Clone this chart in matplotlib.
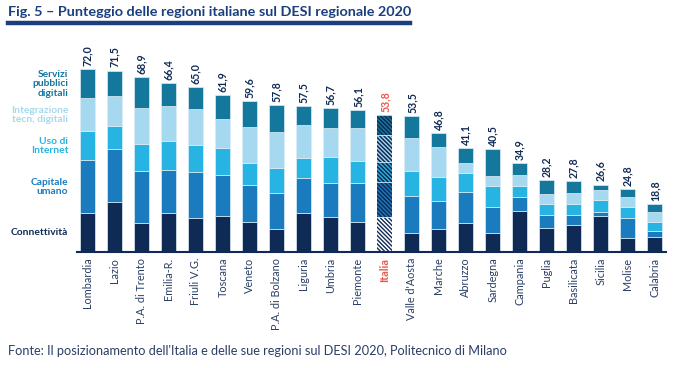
import numpy as np
import matplotlib.pyplot as plt

plt.rcParams['font.family'] = ['Lato', 'DejaVu Sans']
plt.rcParams['hatch.linewidth'] = 1.0

regions = ["Lombardia", "Lazio", "P.A. di Trento", "Emilia-R.", "Friuli V.G.", "Toscana",
           "Veneto", "P.A. di Bolzano", "Liguria", "Umbria", "Piemonte", "Italia",
           "Valle d'Aosta", "Marche", "Abruzzo", "Sardegna", "Campania", "Puglia",
           "Basilicata", "Sicilia", "Molise", "Calabria"]
totals = ["72,0", "71,5", "68,9", "66,4", "65,0", "61,9", "59,6", "57,8", "57,5", "56,7",
          "56,1", "53,8", "53,5", "46,8", "41,1", "40,5", "34,9", "28,2", "27,8", "26,6",
          "24,8", "18,8"]

connettivita = [15.2, 19.8, 11.5, 15.2, 13.3, 14.3, 11.9, 9.1, 15.2, 13.7, 11.9, 13.9,
                7.4, 8.9, 11.5, 7.6, 16.1, 9.3, 10.6, 14.3, 5.4, 6.0]
capitale = [21.0, 20.6, 20.5, 17.3, 18.2, 15.9, 14.7, 14.3, 13.8, 13.6, 15.4, 13.8,
            14.8, 11.3, 12.2, 10.2, 5.4, 5.2, 3.9, 1.6, 7.9, 2.2]
uso_internet = [11.4, 9.4, 10.5, 11.1, 10.6, 10.6, 8.5, 9.6, 8.1, 10.2, 8.5, 7.9,
                9.7, 9.2, 7.5, 8.1, 4.6, 4.3, 4.6, 4.6, 4.3, 3.7]
integrazione = [12.9, 11.7, 14.3, 13.9, 14.1, 11.8, 14.2, 14.3, 12.8, 11.4, 12.9, 10.4,
                12.9, 11.8, 3.9, 3.9, 4.1, 3.9, 4.2, 4.0, 4.0, 3.9]
servizi = [11.5, 10.0, 12.1, 8.9, 8.8, 9.3, 10.3, 10.5, 7.6, 7.8, 7.4, 7.8,
           8.7, 5.6, 6.0, 10.7, 4.7, 5.5, 4.5, 2.1, 3.2, 3.0]

series = [
    ("Connettività", connettivita, "#0f2b55"),
    ("Capitale\numano", capitale, "#1a7cbf"),
    ("Uso di\nInternet", uso_internet, "#27b4e2"),
    ("Integrazione\ntecn, digitali", integrazione, "#a6d9ef"),
    ("Servizi\npubblici\ndigitali", servizi, "#14779c"),
]

navy = "#0f2b55"
red = "#e8584f"
text_col = "#2b3f66"
italia = regions.index("Italia")
hatch = "\\" * 8

fig = plt.figure(figsize=(7, 3.68), dpi=100)
ax = fig.add_axes([0.11, 0.315, 0.841, 0.552])

x = np.arange(len(regions))
w = 0.55
bottom = np.zeros(len(regions))
for k, (name, vals, col) in enumerate(series):
    vals = np.array(vals)
    for i in range(len(regions)):
        if i == italia:
            # Italia: hatched bar
            if k == 0:
                ax.bar(x[i], vals[i], w, bottom=bottom[i], color="white",
                       edgecolor=navy, hatch=hatch, linewidth=0)
            else:
                ax.bar(x[i], vals[i], w, bottom=bottom[i], color=navy,
                       edgecolor=col, hatch=hatch, linewidth=0)
            ax.plot([x[i] - w / 2, x[i] + w / 2], [bottom[i] + vals[i]] * 2,
                    color="#d8ecf5", lw=0.6)
        else:
            ax.bar(x[i], vals[i], w, bottom=bottom[i], color=col,
                   edgecolor="#dcedf6", linewidth=0.5)
    ax.text(-0.72, bottom[0] + vals[0] / 2, name, ha="right", va="center",
            fontsize=7.4, fontweight="bold", color=col, linespacing=1.05,
            clip_on=False)
    bottom += vals

for i in range(len(regions)):
    ax.text(x[i], bottom[i] + 1.2, totals[i], rotation=90, ha="center", va="bottom",
            fontsize=7.6, fontweight="bold", color=red if i == italia else navy)

ax.set_xlim(-0.4, len(regions) - 0.6)
ax.set_ylim(0, 80)
for s in ["top", "right", "left"]:
    ax.spines[s].set_visible(False)
ax.spines["bottom"].set_color(navy)
ax.spines["bottom"].set_linewidth(1.5)
ax.set_yticks([])
ax.set_xticks(x)
ax.set_xticklabels(regions, rotation=90, fontsize=7.8, color=text_col)
ax.tick_params(axis="x", length=0, pad=4)
ax.get_xticklabels()[italia].set_color(red)
ax.get_xticklabels()[italia].set_fontweight("bold")

fig.text(0.012, 0.968, "Fig. 5 – Punteggio delle regioni italiane sul DESI regionale 2020",
         fontsize=10.4, fontweight="bold", color="#1b3f7e", ha="left", va="center")
fig.add_artist(plt.Line2D([0.012, 0.585], [0.938, 0.938], color="#1b3f7e", lw=3.2,
                          transform=fig.transFigure))
fig.text(0.012, 0.045, "Fonte: Il posizionamento dell'Italia e delle sue regioni sul DESI 2020, Politecnico di Milano",
         fontsize=9.2, color=text_col, ha="left", va="center")

plt.savefig("out.png", dpi=100)
